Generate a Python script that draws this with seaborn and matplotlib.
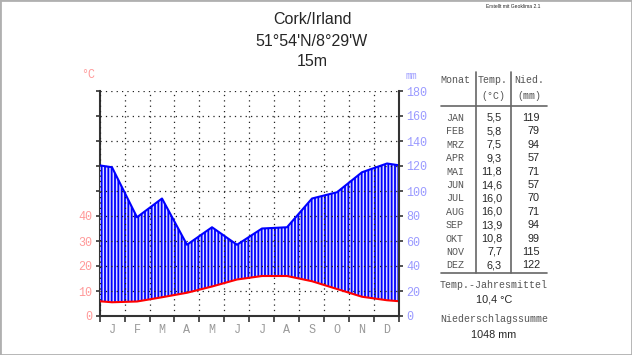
"""Klimadiagramm Cork/Irland (Walter-Lieth style)
"""

import numpy as np
import pandas as pd
import matplotlib.pyplot as plt
import seaborn as sns
from matplotlib.patches import Rectangle

# Monthly climate data
months = ["JAN", "FEB", "MRZ", "APR", "MAI", "JUN", "JUL", "AUG", "SEP", "OKT", "NOV", "DEZ"]
month_letters = ["J", "F", "M", "A", "M", "J", "J", "A", "S", "O", "N", "D"]
temp = [5.5, 5.8, 7.5, 9.3, 11.8, 14.6, 16.0, 16.0, 13.9, 10.8, 7.7, 6.3]
precip = [119, 79, 94, 57, 71, 57, 70, 71, 94, 99, 115, 122]
temp_ticks = [0, 10, 20, 30, 40]
precip_ticks = [0, 20, 40, 60, 80, 100, 120, 140, 160, 180]
annual_temp = "10,4 °C"
annual_precip = "1048 mm"
station = "Cork/Irland"
coords = "51°54'N/8°29'W"
elevation = "15m"

MONO = "Liberation Mono"
SANS = "Liberation Sans"
RED = "#ff0000"
BLUE = "#0000ff"
PINK = "#ff9a9a"
LBLUE = "#9a9aff"
GREY = "#999999"

# cyclic extension (Dec before Jan, Jan after Dec), clipped by the axes limits
x_pos = np.arange(-0.5, 12.6, 1.0)
df = pd.DataFrame({
    "x": x_pos,
    "temp_mm": np.array([temp[-1]] + temp + [temp[0]]) * 2,  # 1 degC = 2 mm
    "precip": [precip[-1]] + precip + [precip[0]],
})

sns.set_style("white")
plt.rcParams["hatch.linewidth"] = 1.3

fig = plt.figure(figsize=(6.32, 3.55), dpi=100)
ax = fig.add_axes([99.5 / 632, 39 / 355, 300 / 632, 225 / 355])

ax.fill_between(df["x"], df["temp_mm"], df["precip"], facecolor="#dcdcff",
                edgecolor=BLUE, hatch="|||||", linewidth=0)
sns.lineplot(data=df, x="x", y="precip", color=BLUE, lw=1.5, ax=ax)
sns.lineplot(data=df, x="x", y="temp_mm", color=RED, lw=1.5, ax=ax)

ax.set_xlim(0, 12)
ax.set_ylim(0, 180)
ax.set_xlabel("")
ax.set_ylabel("")

# grid
ax.set_xticks(range(13))
ax.set_xticklabels([])
ax.set_xticks(np.arange(0.5, 12), minor=True)
ax.set_xticklabels(month_letters, minor=True, fontfamily=MONO, fontsize=8.5, color=GREY)
ax.tick_params(axis="x", which="major", direction="out", length=4, width=1.2,
               color="#333333", bottom=True)
ax.tick_params(axis="x", which="minor", length=0, pad=6)
ax.grid(True, which="major", color="#222222", linestyle=(0, (1, 3.3)), lw=0.9)
ax.set_axisbelow("line")

# right axis: precipitation
ax.yaxis.tick_right()
ax.set_yticks(precip_ticks)
ax.set_yticklabels([str(v) for v in precip_ticks], fontfamily=MONO, fontsize=8.5)
ax.tick_params(axis="y", direction="out", length=3, width=1.2, color="#333333",
               labelcolor=LBLUE, pad=2, right=True)

# left axis: temperature
sec = ax.secondary_yaxis("left", functions=(lambda y: y / 2, lambda t: t * 2))
sec.set_yticks(range(0, 91, 10))
sec.set_yticklabels([str(v) if v in temp_ticks else "" for v in range(0, 91, 10)],
                    fontfamily=MONO, fontsize=8.5)
sec.tick_params(axis="y", direction="out", length=3, width=1.2, color="#333333",
                labelcolor=PINK, pad=2)
sec.spines["left"].set_color("#333333")
sec.spines["left"].set_linewidth(1.5)

for side in ["left", "top"]:
    ax.spines[side].set_visible(False)
for side in ["right", "bottom"]:
    ax.spines[side].set_color("#333333")
    ax.spines[side].set_linewidth(1.5)

fig.text(88 / 632, 1 - 75 / 355, "°C", color=PINK, fontfamily=MONO, fontsize=8.5,
         ha="center", va="center")
fig.text(411 / 632, 1 - 76 / 355, "mm", color=LBLUE, fontfamily=MONO, fontsize=7,
         ha="center", va="center")

# title
for y, txt in [(20, station), (42, coords), (62, elevation)]:
    fig.text(312 / 632, 1 - y / 355, txt, fontfamily=SANS, fontsize=11.5,
             ha="center", va="center")
fig.text(540 / 632, 1 - 7 / 355, "Erstellt mit Geoklima 2.1", fontfamily=SANS,
         fontsize=3.6, ha="right", va="center")


# table
def fy(y):
    return 1 - y / 355


fig.text(455 / 632, fy(80), "Monat", fontfamily=MONO, fontsize=7.2, color="#555555",
         ha="center", va="center")
fig.text(493 / 632, fy(80), "Temp.", fontfamily=MONO, fontsize=7.2, color="#555555",
         ha="center", va="center")
fig.text(529 / 632, fy(80), "Nied.", fontfamily=MONO, fontsize=7.2, color="#555555",
         ha="center", va="center")
fig.text(493 / 632, fy(96), "(°C)", fontfamily=MONO, fontsize=7.2, color="#555555",
         ha="center", va="center")
fig.text(529 / 632, fy(96), "(mm)", fontfamily=MONO, fontsize=7.2, color="#555555",
         ha="center", va="center")

for i, (m, t, p) in enumerate(zip(months, temp, precip)):
    y = fy(118 + i * 13.4)
    fig.text(455 / 632, y, m, fontfamily=MONO, fontsize=7.2, color="#555555",
             ha="center", va="center")
    fig.text(502 / 632, y, f"{t:.1f}".replace(".", ","), fontfamily=SANS,
             fontsize=7.8, ha="right", va="center")
    fig.text(540 / 632, y, str(p), fontfamily=SANS, fontsize=7.8,
             ha="right", va="center")

fig.add_artist(plt.Line2D([441 / 632, 547 / 632], [fy(105.7)] * 2, color="#666666", lw=1.2))
fig.add_artist(plt.Line2D([441 / 632, 547 / 632], [fy(273)] * 2, color="#666666", lw=1.2))
fig.add_artist(plt.Line2D([475.7 / 632] * 2, [fy(72), fy(273)], color="#666666", lw=1.2))
fig.add_artist(plt.Line2D([511 / 632] * 2, [fy(72), fy(273)], color="#666666", lw=1.2))

fig.text(494 / 632, fy(285), "Temp.-Jahresmittel", fontfamily=MONO, fontsize=7.2,
         color="#555555", ha="center", va="center")
fig.text(494 / 632, fy(299), annual_temp, fontfamily=SANS, fontsize=7.8,
         ha="center", va="center")
fig.text(494 / 632, fy(319), "Niederschlagssumme", fontfamily=MONO, fontsize=7.2,
         color="#555555", ha="center", va="center")
fig.text(494 / 632, fy(335), annual_precip, fontfamily=SANS, fontsize=7.8,
         ha="center", va="center")

# outer frame
fig.patches.append(Rectangle((0, 0), 1, 1, transform=fig.transFigure, fill=False,
                             edgecolor="#b0b0b0", lw=2))

plt.savefig("out.png", dpi=100)
